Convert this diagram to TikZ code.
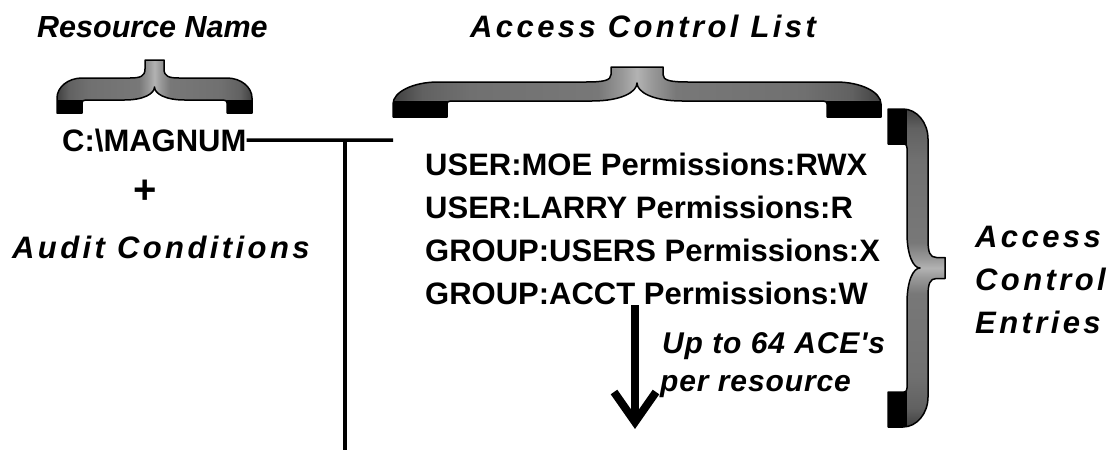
\documentclass[tikz,border=0pt]{standalone}
\usepackage{fontspec}
\setmainfont{Liberation Sans}
\newfontfamily\spacedsans[LetterSpace=11]{Liberation Sans}
\newfontfamily\slightsans[LetterSpace=3]{Liberation Sans}
\usetikzlibrary{calc}
\pgfdeclarehorizontalshading{bracesh}{100bp}{color(0bp)=(black!75); color(25bp)=(black!75); color(28bp)=(black!62); color(33bp)=(black!56); color(46bp)=(black!53); color(48.5bp)=(black!40); color(50bp)=(black!30); color(51.5bp)=(black!40); color(54bp)=(black!53); color(67bp)=(black!56); color(72bp)=(black!62); color(75bp)=(black!75); color(100bp)=(black!75)}
\newcommand{\bracepath}{%
(-\bL,0) -- (-\bL+\bW,0) -- (-\bL+\bW,\bH-3)
 .. controls (-\bL+\bW,\bH-1) and (-\bL+\bW+1,\bH) .. (-\bL+\bW+4,\bH)
 -- (-\bC,\bH) .. controls (-0.35*\bC,\bH) and (0,\bH+0.5*\bN) .. (0,\bH+\bN)
 .. controls (0,\bH+0.5*\bN) and (0.35*\bC,\bH) .. (\bC,\bH)
 -- (\bL-\bW-4,\bH) .. controls (\bL-\bW-1,\bH) and (\bL-\bW,\bH-1) .. (\bL-\bW,\bH-3)
 -- (\bL-\bW,0) -- (\bL,0)
 -- (\bL,\bH+\bT-\bRy) .. controls (\bL,\bH+\bT-0.45*\bRy) and (\bL-0.45*\bRx,\bH+\bT) .. (\bL-\bRx,\bH+\bT)
 -- (0.5*\bTW+\bS,\bH+\bT) .. controls (0.5*\bTW+0.3*\bS,\bH+\bT) and (0.5*\bTW,\bH+\bT+0.1*\bTH) .. (0.5*\bTW,\bH+\bT+0.5*\bTH)
 -- (0.5*\bTW,\bH+\bT+\bTH) -- (-0.5*\bTW,\bH+\bT+\bTH) -- (-0.5*\bTW,\bH+\bT+0.5*\bTH)
 .. controls (-0.5*\bTW,\bH+\bT+0.1*\bTH) and (-0.5*\bTW-0.3*\bS,\bH+\bT) .. (-0.5*\bTW-\bS,\bH+\bT)
 -- (-\bL+\bRx,\bH+\bT) .. controls (-\bL+0.45*\bRx,\bH+\bT) and (-\bL,\bH+\bT-0.45*\bRy) .. (-\bL,\bH+\bT-\bRy) -- cycle}
\newcommand{\drawbrace}{%
  \shade[shading=bracesh] \bracepath;
  \begin{scope}
    \clip \bracepath;
    \fill[black] (-\bL,0) rectangle (-\bL+\bW,\bH);
    \fill[black] (\bL-\bW,0) rectangle (\bL,\bH);
  \end{scope}
  \draw[braceline] \bracepath;
}
\begin{document}
\begin{tikzpicture}[x=1pt,y=1pt,
  braceline/.style={draw=black,line width=1.5pt,line join=round},
  lbl/.style={inner sep=0pt,anchor=base west},
  title/.style={lbl,font=\spacedsans\bfseries\itshape\fontsize{31}{37}\selectfont},
  plaintitle/.style={lbl,font=\bfseries\itshape\fontsize{30.5}{37}\selectfont},
  entry/.style={lbl,font=\bfseries\fontsize{31}{37}\selectfont},
  note/.style={lbl,font=\slightsans\bfseries\itshape\fontsize{30}{36}\selectfont},
  conn/.style={line width=3.5pt},
  bigarrow/.style={line width=8pt}]
\fill[white] (0,0) rectangle (1111,-450);
\useasboundingbox (0,0) rectangle (1111,-450);

% small brace (Resource Name)
\begin{scope}[shift={(154.5,-113)}]
  \def\bL{97.5}\def\bW{25}\def\bH{13}\def\bT{22}\def\bTH{18}\def\bTW{19}
  \def\bN{13}\def\bC{30}\def\bS{15}\def\bRx{25}\def\bRy{20}
  \drawbrace
\end{scope}
% big brace (Access Control List)
\begin{scope}[shift={(637,-117)}]
  \def\bL{244}\def\bW{54}\def\bH{16}\def\bT{19}\def\bTH{15}\def\bTW{52}
  \def\bN{18}\def\bC{45}\def\bS{25}\def\bRx{45}\def\bRy{22}
  \drawbrace
\end{scope}
% vertical brace (Access Control Entries)
\begin{scope}[transform canvas={shift={(888,-268)},rotate=-90}]
  \def\bL{159}\def\bW{35}\def\bH{19}\def\bT{21}\def\bTH{17}\def\bTW{21}
  \def\bN{13}\def\bC{35}\def\bS{18}\def\bRx{30}\def\bRy{25}
  \drawbrace
\end{scope}

% titles
\node[plaintitle] (rname) at (37,-37) {Resource Name};
\node[title] (acl) at (470,-37) {Access Control List};

% resource side
\node[entry] (mag) at (62,-151) {C:\textbackslash MAGNUM};
\node[inner sep=0pt,font=\bfseries\fontsize{40}{40}\selectfont] (plus) at (145,-192) {+};
\node[title] (audit) at (12,-258) {Audit Conditions};

% entries
\node[entry] (e1) at (425,-175) {USER:MOE Permissions:RWX};
\node[entry] (e2) at (425,-218) {USER:LARRY Permissions:R};
\node[entry] (e3) at (425,-261) {GROUP:USERS Permissions:X};
\node[entry] (e4) at (425,-304) {GROUP:ACCT Permissions:W};

% ACE label
\node[title] (ace1) at (975,-247) {Access};
\node[title] (ace2) at (975,-290) {Control};
\node[title] (ace3) at (975,-333) {Entries};

% note
\node[note] (up1) at (662,-353) {Up to 64 ACE\char"27 s};
\node[note] (up2) at (660,-391) {per resource};

% connectors
\coordinate (aclend) at (393,-140);
\coordinate (junc) at (345,-140);
\coordinate (vbot) at (345,-450);
\draw[conn] (mag.east) -- (aclend);
\draw[conn] (junc) -- (vbot);

% arrow
\coordinate (atop) at (635,-305);
\coordinate (atip) at (635,-422);
\draw[bigarrow] (atop) -- (atip);
\draw[bigarrow,line join=miter,miter limit=10] ($(atip)+(-21,30)$) -- (atip) -- ($(atip)+(21,30)$);
\end{tikzpicture}
\end{document}
